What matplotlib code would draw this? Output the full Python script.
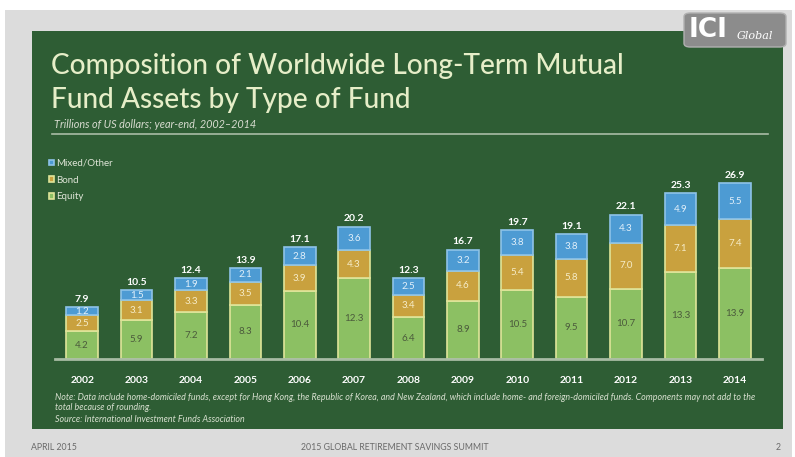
import matplotlib
matplotlib.use("Agg")
import matplotlib.pyplot as plt
from matplotlib.patches import Rectangle, FancyBboxPatch
import numpy as np

years = ["2002", "2003", "2004", "2005", "2006", "2007", "2008",
         "2009", "2010", "2011", "2012", "2013", "2014"]
equity = [4.2, 5.9, 7.2, 8.3, 10.4, 12.3, 6.4, 8.9, 10.5, 9.5, 10.7, 13.3, 13.9]
bond = [2.5, 3.1, 3.3, 3.5, 3.9, 4.3, 3.4, 4.6, 5.4, 5.8, 7.0, 7.1, 7.4]
mixed = [1.2, 1.5, 1.9, 2.1, 2.8, 3.6, 2.5, 3.2, 3.8, 3.8, 4.3, 4.9, 5.5]
totals = [7.9, 10.5, 12.4, 13.9, 17.1, 20.2, 12.3, 16.7, 19.7, 19.1, 22.1, 25.3, 26.9]

W, H = 795, 457
BG_GREEN = "#2e5d34"
C_EQ = "#8cc063"
C_BOND = "#c9a13e"
C_MIX = "#4d9bd3"
SEP = "#dfe59a"
FONT = "Lato"

fig = plt.figure(figsize=(W / 100, H / 100), dpi=100)
fig.patch.set_facecolor("white")


def fx(px):
    return px / W


def fy(py):
    return 1 - py / H


# slide frame and green panel
fig.add_artist(Rectangle((fx(5), 0), fx(787), fy(10), transform=fig.transFigure,
                         facecolor="#dcdcdc", edgecolor="none", zorder=0))
fig.add_artist(Rectangle((fx(32), fy(429)), fx(783 - 32), (429 - 31) / H,
                         transform=fig.transFigure, facecolor=BG_GREEN,
                         edgecolor="none", zorder=0))

# ICI Global logo
fig.add_artist(FancyBboxPatch((fx(684), fy(47)), fx(102), 34 / H,
                              boxstyle="round,pad=0,rounding_size=0.008",
                              transform=fig.transFigure, facecolor="#8c8c8c",
                              edgecolor="#b0b0b0", zorder=1))
fig.text(fx(689), fy(30), "ICI", color="white", fontsize=19, fontweight="bold",
         family="DejaVu Sans", va="center", ha="left", zorder=2)
fig.text(fx(737), fy(36), "Global", color="white", fontsize=8, style="italic",
         family="DejaVu Serif", va="center", ha="left", zorder=2)

# title block
fig.text(fx(51), fy(66), "Composition of Worldwide Long-Term Mutual",
         color="#e6eec8", fontsize=20.2, family=FONT, fontweight="medium",
         va="center", ha="left")
fig.text(fx(51), fy(100), "Fund Assets by Type of Fund",
         color="#e6eec8", fontsize=20.2, family=FONT, fontweight="medium",
         va="center", ha="left")
fig.text(fx(54), fy(125), "Trillions of US dollars; year-end, 2002\u20132014",
         color="#d8dcd0", fontsize=7.8, style="italic", family=FONT,
         va="center", ha="left")
fig.add_artist(plt.Line2D([fx(52), fx(768)], [fy(134), fy(134)],
                          transform=fig.transFigure, color="#a9bda6", lw=1.2))

# chart axes
ax = fig.add_axes([fx(55), fy(359), fx(762 - 55), (359 - 162.5) / H])
ax.set_facecolor("none")
x = np.arange(len(years))
bw = 0.58
eq = np.array(equity)
bd = np.array(bond)
mx = np.array(mixed)
ax.bar(x, eq, bw, color=C_EQ, edgecolor=SEP, linewidth=1.2, label="Equity")
ax.bar(x, bd, bw, bottom=eq, color=C_BOND, edgecolor=SEP, linewidth=1.2, label="Bond")
ax.bar(x, mx, bw, bottom=eq + bd, color=C_MIX, edgecolor="#8ec3e8", linewidth=1.2,
       label="Mixed/Other")

for i in range(len(years)):
    ax.text(x[i], eq[i] / 2, f"{equity[i]:.1f}", ha="center", va="center",
            fontsize=7, color="#4b5a3c", family=FONT)
    ax.text(x[i], eq[i] + bd[i] / 2, f"{bond[i]:.1f}", ha="center", va="center",
            fontsize=7, color="#f6ecc8", family=FONT)
    ax.text(x[i], eq[i] + bd[i] + mx[i] / 2, f"{mixed[i]:.1f}", ha="center",
            va="center", fontsize=7, color="#e2f0fa", family=FONT)
    ax.text(x[i], totals[i] + 0.5, f"{totals[i]:.1f}", ha="center", va="bottom",
            fontsize=7.5, color="white", fontweight="bold", family=FONT)

ax.set_xlim(-0.5, len(years) - 0.5)
ax.set_ylim(0, 30)
ax.set_yticks([])
ax.set_xticks(x)
ax.set_xticklabels(years, color="white", fontsize=7.5, fontweight="bold", family=FONT)
ax.tick_params(axis="x", length=0, pad=12)
for s in ["top", "right", "left"]:
    ax.spines[s].set_visible(False)
ax.spines["bottom"].set_color("#a8bca4")
ax.spines["bottom"].set_linewidth(2)

handles, labels = ax.get_legend_handles_labels()
leg = fig.legend(handles[::-1], labels[::-1], loc="upper left",
                 bbox_to_anchor=(fx(40), fy(150)), frameon=False,
                 labelcolor="#e0e6d8", handlelength=0.5,
                 handleheight=0.5, handletextpad=0.3, labelspacing=0.8,
                 prop={"family": FONT, "size": 7})

# notes
note_kw = dict(color="#d8e0d0", fontsize=6.4, style="italic", family=FONT, va="center")
fig.text(fx(55), fy(397),
         "Note: Data include home-domiciled funds, except for Hong Kong, the Republic of Korea, "
         "and New Zealand, which include home- and foreign-domiciled funds. Components may not add to the",
         **note_kw)
fig.text(fx(55), fy(408), "total because of rounding.", **note_kw)
fig.text(fx(55), fy(419), "Source: International Investment Funds Association", **note_kw)

# footer
foot_kw = dict(color="#6a6a6a", fontsize=6.3, family=FONT, va="center")
fig.text(fx(31), fy(447), "APRIL 2015", **foot_kw)
fig.text(fx(395), fy(447), "2015 GLOBAL RETIREMENT SAVINGS SUMMIT", ha="center", **foot_kw)
fig.text(fx(778), fy(447), "2", ha="center", **foot_kw)

fig.savefig("out.png", dpi=100, facecolor=fig.get_facecolor())
